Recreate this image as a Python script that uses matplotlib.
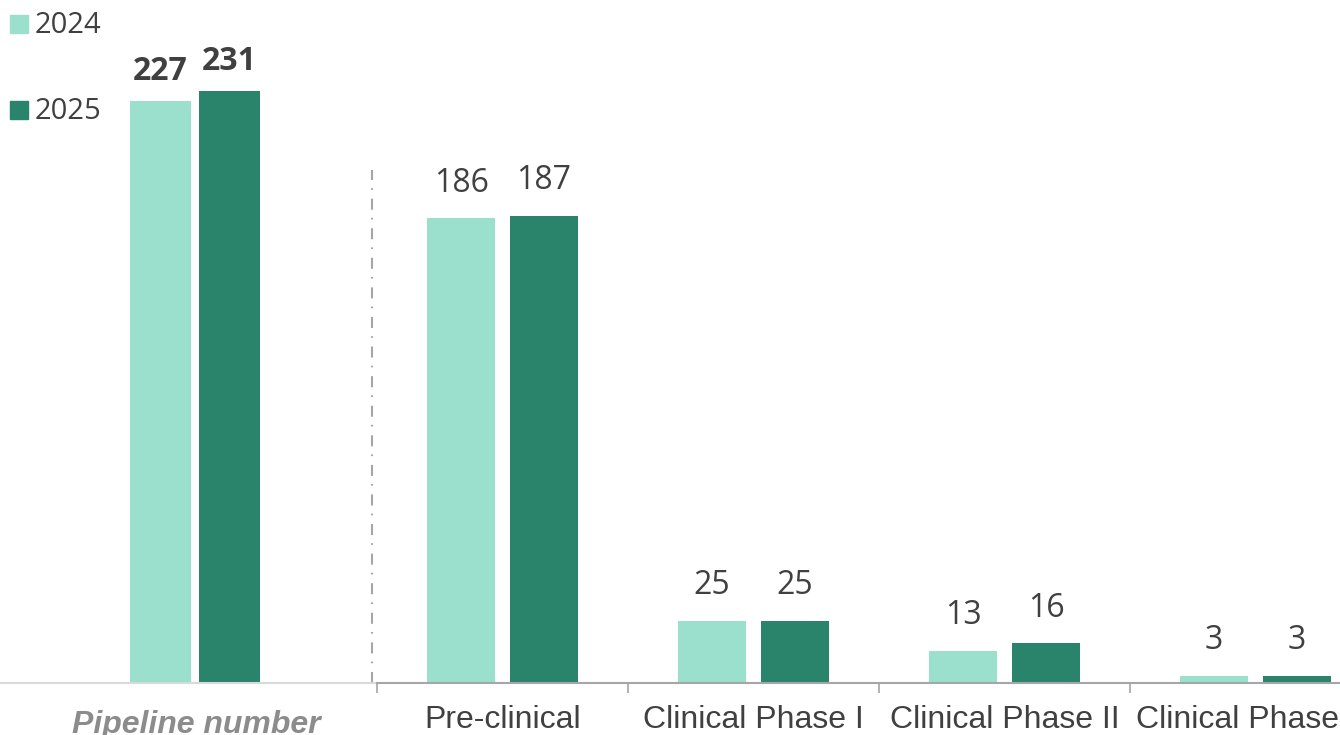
import numpy as np
import matplotlib
matplotlib.use("Agg")
import matplotlib.pyplot as plt
from matplotlib.patches import Rectangle

# === Данные ===
years = ["2024", "2025"]
colors = ["#9ae0cc", "#2a846c"]

total_label = "Pipeline number"
total_values = [227, 231]

stages = ["Pre-clinical", "Clinical Phase I", "Clinical Phase II", "Clinical Phase III"]
stage_2024 = [186, 25, 13, 3]
stage_2025 = [187, 25, 16, 3]

text_color = "#404040"
value_font = "Open Sans"
axis_font = "Liberation Sans"

W, H = 1340, 735
fig = plt.figure(figsize=(W / 100, H / 100), dpi=100)

bottom = (H - 683) / H
height = 683 / H

# === Левая часть: общее число ===
ax_l = fig.add_axes([0, bottom, 377 / W, height])
ax_l.set_xlim(-195 / 251, (377 - 195) / 251)
ax_l.set_ylim(0, 266.4)
w_l = 0.245
off_l = 0.137
for i, (v, c) in enumerate(zip(total_values, colors)):
    x = (i - 0.5) * 2 * off_l
    ax_l.bar(x, v, width=w_l, color=c)
    ax_l.annotate(str(v), (x, v), xytext=(0, 15), textcoords="offset points",
                  ha="center", va="baseline", fontsize=23, fontweight="bold",
                  color=text_color, family=value_font)
for s in ["top", "left", "right"]:
    ax_l.spines[s].set_visible(False)
ax_l.spines["bottom"].set_color("#d9d9d9")
ax_l.spines["bottom"].set_linewidth(1.5)
ax_l.set_xticks([])
ax_l.set_yticks([])
# разделитель
sep_x = (372 - 195) / 251
ax_l.plot([sep_x, sep_x], [0, 200], color="#a6a6a6", lw=1.5,
          linestyle=(0, (5.3, 4.2, 0.8, 3.9)), clip_on=False)
fig.text(196 / W, (H - 733) / H, total_label, ha="center", va="baseline",
         fontsize=23, fontweight="bold", fontstyle="italic", color="#8c8c8c",
         family=axis_font)

# === Правая часть: стадии ===
ax_r = fig.add_axes([377 / W, bottom, 1 - 377 / W, height])
ax_r.set_xlim(-0.5, -0.5 + (W - 377) / 251)
ax_r.set_ylim(0, 273.2)
x = np.arange(len(stages))
w_r = 0.271
off_r = 0.165
for vals, c, sgn in zip([stage_2024, stage_2025], colors, [-1, 1]):
    xs = x + sgn * off_r
    ax_r.bar(xs, vals, width=w_r, color=c)
    for xi, v in zip(xs, vals):
        ax_r.annotate(str(v), (xi, v), xytext=(0, 19), textcoords="offset points",
                      ha="center", va="baseline", fontsize=23,
                      color=text_color, family=value_font)
for s in ["top", "left", "right"]:
    ax_r.spines[s].set_visible(False)
ax_r.spines["bottom"].set_color("#a6a6a6")
ax_r.spines["bottom"].set_linewidth(1.5)
ax_r.set_yticks([])
ax_r.set_xticks(x)
ax_r.set_xticklabels(stages, fontsize=23, color=text_color, family=axis_font)
ax_r.tick_params(axis="x", which="major", length=0, pad=16)
ax_r.set_xticks(np.arange(len(stages)) - 0.5, minor=True)
ax_r.tick_params(axis="x", which="minor", length=7, width=1.2, color="#a6a6a6")

# === Легенда ===
leg_y = [33, 119]
for name, c, yb in zip(years, colors, leg_y):
    fig.patches.append(Rectangle((10 / W, (H - yb) / H), 18 / W, 18 / H,
                                 transform=fig.transFigure, color=c))
    fig.text(35 / W, (H - yb) / H, name, ha="left", va="baseline",
             fontsize=21, color=text_color, family=value_font)

fig.savefig("out.png", dpi=100)
